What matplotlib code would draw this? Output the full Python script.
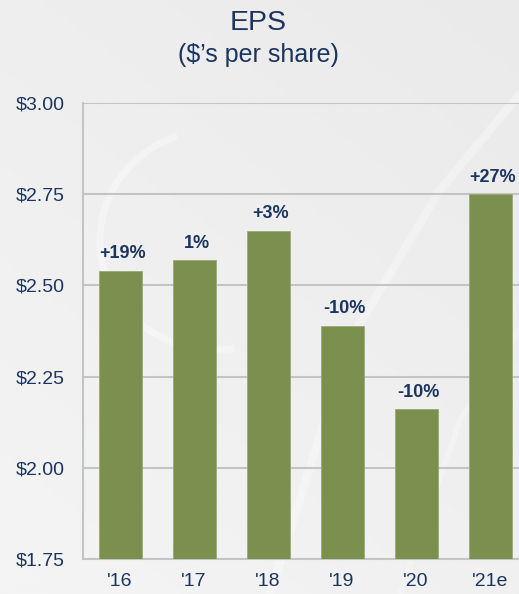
import numpy as np
import matplotlib.pyplot as plt
from matplotlib.patches import Arc

plt.rcParams['font.family'] = ['Liberation Sans', 'DejaVu Sans']

# chart data
years = ["'16", "'17", "'18", "'19", "'20", "'21e"]
eps = [2.54, 2.57, 2.65, 2.39, 2.16, 2.75]
growth = ['+19%', '1%', '+3%', '-10%', '-10%', '+27%']
yticks = [1.75, 2.00, 2.25, 2.50, 2.75, 3.00]

navy = '#1b3560'
bar_col = '#7b8f4f'
grid_col = '#c3c4c4'

fig = plt.figure(figsize=(5.19, 5.94), dpi=100)

# background gradient + faint watermark swirl
bg = fig.add_axes([0, 0, 1, 1], zorder=-10)
gx = np.linspace(0, 1, 200)
gy = np.linspace(0, 1, 200)
X, Y = np.meshgrid(gx, gy)
grad = 0.915 + 0.04 * (0.6 * Y + 0.4 * (1 - X))
bg.imshow(grad, cmap='gray', vmin=0, vmax=1, extent=[0, 519, 594, 0], aspect='auto')
bg.add_patch(Arc((215, 240), 230, 220, angle=0, theta1=80, theta2=250,
                 color='white', lw=5, alpha=0.35))
bg.plot([519, 440, 350, 270], [95, 190, 340, 594], color='white', lw=6, alpha=0.3,
        solid_capstyle='round')
bg.plot([519, 460, 400], [330, 420, 594], color='white', lw=4, alpha=0.25,
        solid_capstyle='round')
bg.set_xlim(0, 519)
bg.set_ylim(594, 0)
bg.axis('off')

fig.text(0.497, 0.962, 'EPS', ha='center', va='center', fontsize=20.5, color=navy)
fig.text(0.497, 0.907, "($\u2019s per share)", ha='center', va='center', fontsize=18, color=navy)

ax = fig.add_axes([0.16, 0.0589, 0.8555, 0.7677])
ax.patch.set_alpha(0)
x = np.arange(len(years))
bars = ax.bar(x, eps, width=0.58, color=bar_col, edgecolor='#9aab74', linewidth=0.6,
              zorder=3)

for xi, v, g in zip(x, eps, growth):
    ax.annotate(g, (xi, v), xytext=(2, 6), textcoords='offset points',
                ha='center', va='bottom', fontsize=13, fontweight='bold', color=navy)

ax.set_xlim(-0.5, 5.5)
ax.set_ylim(1.75, 3.00)
ax.set_yticks(yticks)
ax.set_yticklabels(['$%.2f' % t for t in yticks])
ax.set_xticks(x)
ax.set_xticklabels(years)
ax.tick_params(axis='y', length=0, pad=13, labelsize=14, labelcolor=navy)
ax.tick_params(axis='x', length=0, pad=10, labelsize=14, labelcolor=navy)
ax.grid(axis='y', color=grid_col, lw=1.5, zorder=0)
ax.set_axisbelow(True)
for s in ['top', 'right']:
    ax.spines[s].set_visible(False)
for s in ['left', 'bottom']:
    ax.spines[s].set_color(grid_col)
    ax.spines[s].set_linewidth(1.5)

fig.savefig('out.png', dpi=100)
